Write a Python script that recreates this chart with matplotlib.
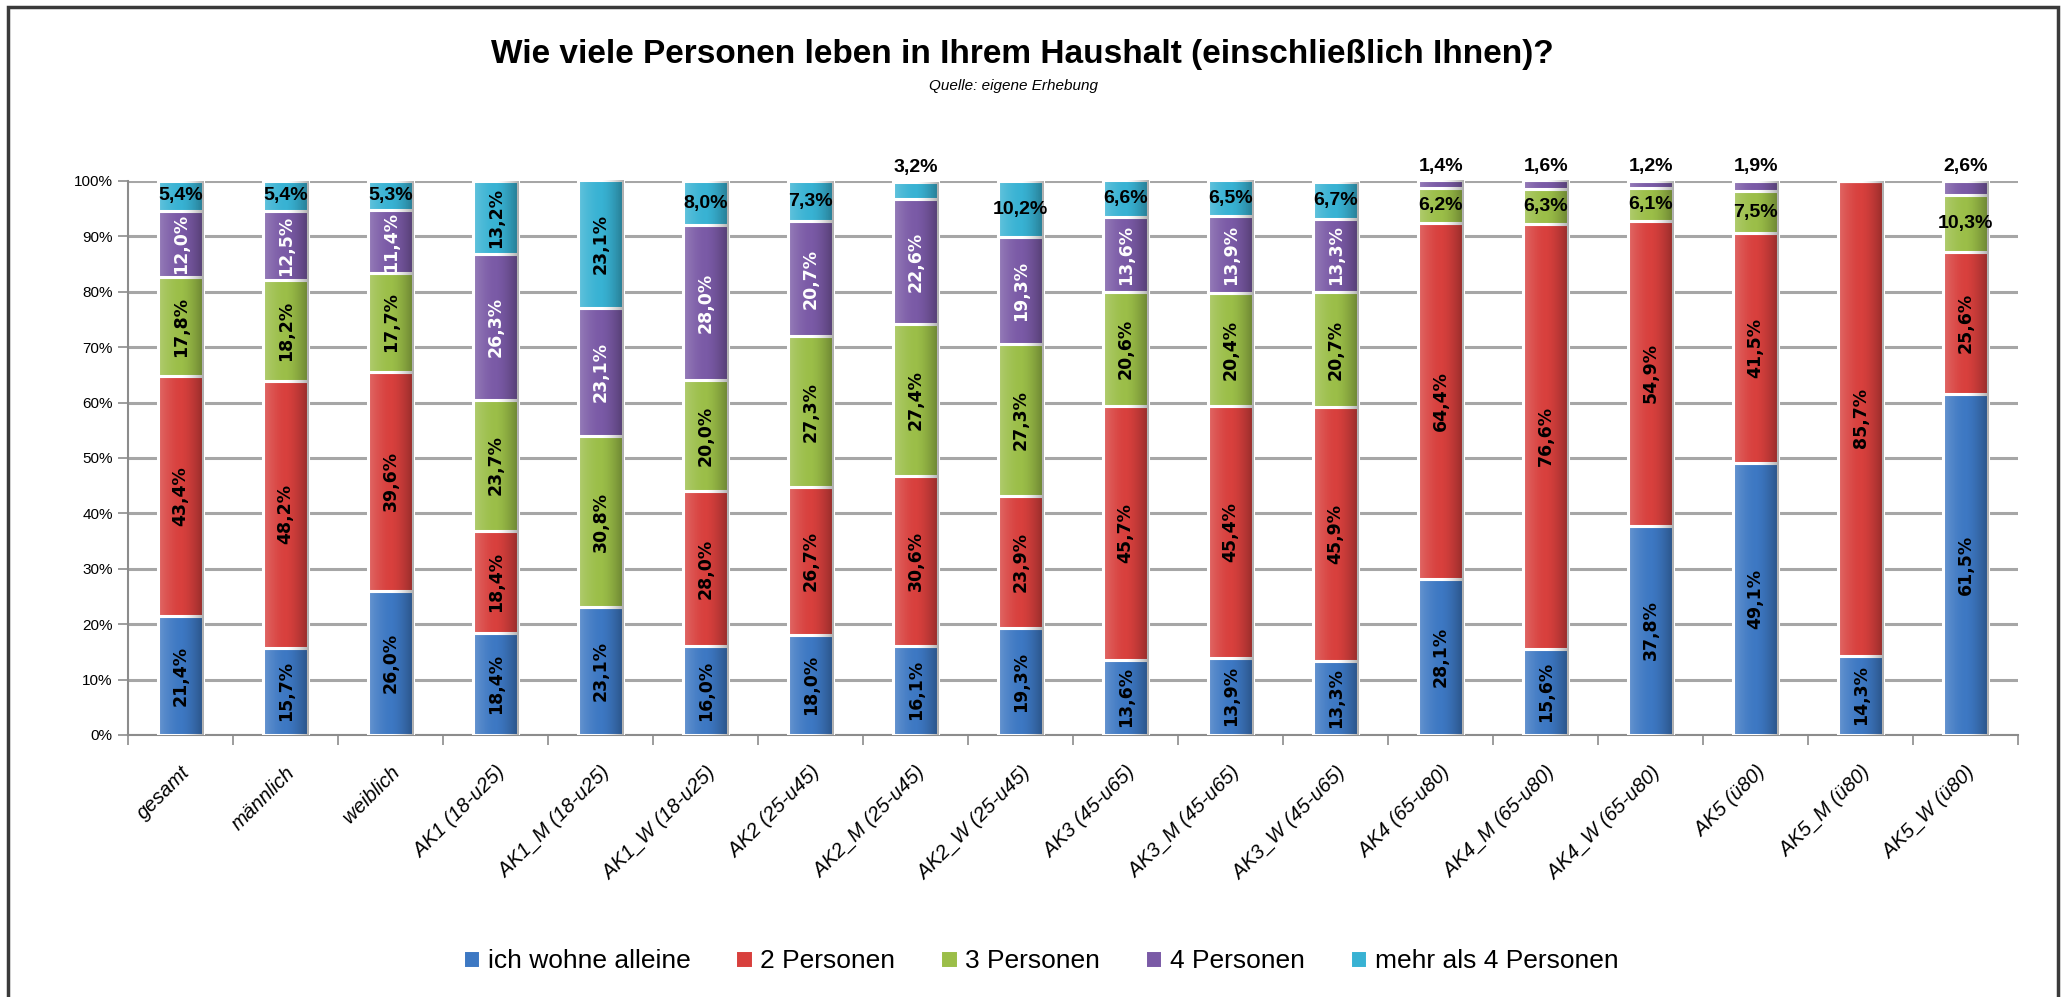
import numpy as np
import matplotlib
matplotlib.use('Agg')
import matplotlib.pyplot as plt
from matplotlib.patches import Rectangle
from matplotlib.ticker import FuncFormatter

plt.rcParams['font.family'] = ['Liberation Sans', 'DejaVu Sans']

# Daten (Anteile in %)
categories = ['gesamt', 'männlich', 'weiblich',
              'AK1 (18-u25)', 'AK1_M (18-u25)', 'AK1_W (18-u25)',
              'AK2 (25-u45)', 'AK2_M (25-u45)', 'AK2_W (25-u45)',
              'AK3 (45-u65)', 'AK3_M (45-u65)', 'AK3_W (45-u65)',
              'AK4 (65-u80)', 'AK4_M (65-u80)', 'AK4_W (65-u80)',
              'AK5 (ü80)', 'AK5_M (ü80)', 'AK5_W (ü80)']
series_names = ['ich wohne alleine', '2 Personen', '3 Personen', '4 Personen', 'mehr als 4 Personen']
alleine = [21.4, 15.7, 26.0, 18.4, 23.1, 16.0, 18.0, 16.1, 19.3, 13.6, 13.9, 13.3, 28.1, 15.6, 37.8, 49.1, 14.3, 61.5]
zwei = [43.4, 48.2, 39.6, 18.4, 0.0, 28.0, 26.7, 30.6, 23.9, 45.7, 45.4, 45.9, 64.4, 76.6, 54.9, 41.5, 85.7, 25.6]
drei = [17.8, 18.2, 17.7, 23.7, 30.8, 20.0, 27.3, 27.4, 27.3, 20.6, 20.4, 20.7, 6.2, 6.3, 6.1, 7.5, 0.0, 10.3]
vier = [12.0, 12.5, 11.4, 26.3, 23.1, 28.0, 20.7, 22.6, 19.3, 13.6, 13.9, 13.3, 1.4, 1.6, 1.2, 1.9, 0.0, 2.6]
mehr = [5.4, 5.4, 5.3, 13.2, 23.1, 8.0, 7.3, 3.2, 10.2, 6.6, 6.5, 6.7, 0.0, 0.0, 0.0, 0.0, 0.0, 0.0]

colors = ['#3D78C3', '#D8403D', '#9BBE48', '#7A5AA6', '#38B2D3']
label_colors = ['black', 'black', 'black', 'white', 'black']

fig = plt.figure(figsize=(20.69, 9.97), dpi=100)
ax = fig.add_axes([0.0619, 0.2628, 0.9135, 0.5557])

x = np.arange(len(categories))
width = 0.43
bottom = np.zeros(len(categories))

# gradient overlay for the "Excel 2007" look
grad = np.zeros((1, 64, 4))
t = np.linspace(0, 1, 64)
grad[0, :, :3] = np.where(t[:, None] < 0.5, 1.0, 0.0)
grad[0, :, 3] = np.where(t < 0.5, 0.22 * (1 - t / 0.5) ** 1.5, 0.32 * ((t - 0.5) / 0.5) ** 1.5)

for i, vals in enumerate([alleine, zwei, drei, vier, mehr]):
    vals = np.array(vals) / 100
    bars = ax.bar(x, vals, width, bottom=bottom, color=colors[i], edgecolor='white',
                  linewidth=2.2, zorder=3, label=series_names[i])
    for j, p in enumerate(bars.patches):
        v = vals[j]
        if v <= 0:
            continue
        im = ax.imshow(grad, extent=[p.get_x(), p.get_x() + p.get_width(), p.get_y(), p.get_y() + p.get_height()],
                       aspect='auto', zorder=3.5, interpolation='bilinear')
        im.set_clip_path(p)
        yc = bottom[j] + v / 2
        txt = f'{v * 100:.1f}%'.replace('.', ',')
        if v < 0.04:
            ax.annotate(txt, (x[j], bottom[j] + v), xytext=(0, 4), textcoords='offset points',
                        ha='center', va='bottom', fontsize=14, fontweight='bold',
                        color='black', zorder=5, annotation_clip=False)
        elif v < 0.11:
            ax.text(x[j], yc, txt, ha='center', va='center', fontsize=14, fontweight='bold',
                    color='black', zorder=5)
        else:
            ax.text(x[j], yc, txt, ha='center', va='center', rotation=90, fontsize=12.5,
                    fontweight='bold', family='DejaVu Sans', color=label_colors[i], zorder=5)
    bottom = bottom + vals

# Achsen
ax.set_xlim(-0.5, len(categories) - 0.5)
ax.set_ylim(0, 1)
ax.set_yticks(np.arange(0, 1.01, 0.1))
ax.yaxis.set_major_formatter(FuncFormatter(lambda v, pos: f'{v * 100:.0f}%'))
ax.tick_params(axis='y', labelsize=11, length=7, width=1.2, color='#8C8C8C', pad=4)
ax.set_xticks(x)
ax.set_xticklabels(categories, rotation=45, ha='right', rotation_mode='anchor',
                   fontsize=14.5, style='italic')
ax.tick_params(axis='x', length=0, pad=20)
ax.set_xticks(np.arange(-0.5, len(categories), 1), minor=True)
ax.tick_params(axis='x', which='minor', length=7, width=1.2, color='#8C8C8C')
ax.grid(axis='y', color='#A6A6A6', linewidth=2.2, zorder=0)
ax.set_axisbelow(True)
for s in ['top', 'right']:
    ax.spines[s].set_visible(False)
for s in ['left', 'bottom']:
    ax.spines[s].set_color('#8C8C8C')
    ax.spines[s].set_linewidth(1.5)

# Titel
fig.text(0.494, 0.945, 'Wie viele Personen leben in Ihrem Haushalt (einschließlich Ihnen)?',
         ha='center', va='center', fontsize=24, fontweight='bold')
fig.text(0.49, 0.914, 'Quelle: eigene Erhebung', ha='center', va='center', fontsize=11, style='italic')

# Legende
fig.legend(loc='center', bbox_to_anchor=(0.503, 0.036), ncol=5, frameon=False, fontsize=19,
           handlelength=0.65, handleheight=0.7, handletextpad=0.3, columnspacing=1.7)

# Rahmen
fig.add_artist(Rectangle((8 / 2069, -0.1), 2050 / 2069, 1.1 - 7 / 997, transform=fig.transFigure,
                         fill=False, edgecolor='#3A3A3A', linewidth=2.5))

plt.savefig('out.png', dpi=100)
